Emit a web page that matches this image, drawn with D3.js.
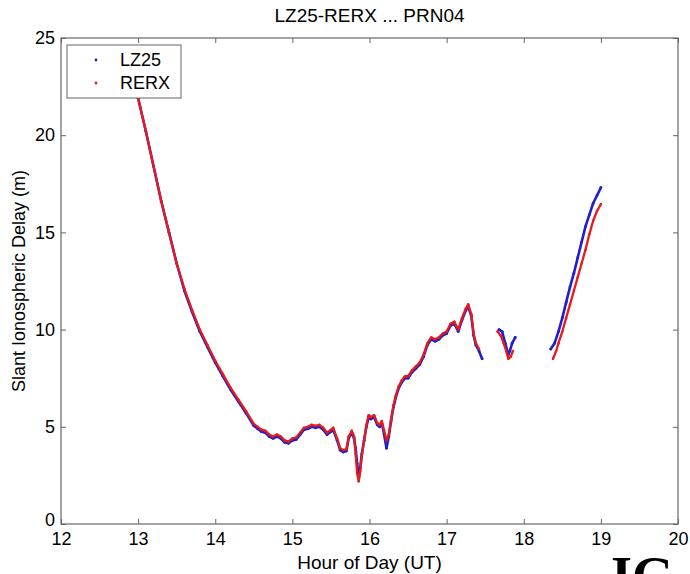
<!DOCTYPE html>
<html>
<head>
<meta charset="utf-8">
<script src="https://cdn.jsdelivr.net/npm/d3@7"></script>
<style>
  html, body { margin: 0; padding: 0; background: #fff; }
  svg { display: block; font-family: "Liberation Sans", Arial, sans-serif; }
</style>
</head>
<body>
<svg id="chart" width="690" height="574"></svg>
<script>
// Slant ionospheric delay along PRN04, seen from the two receivers.
// A null entry in a delay array marks a gap in tracking.
const lz25Hours = [
  13.0, 13.1, 13.2, 13.3, 13.4, 13.5, 13.6, 13.7, 13.8, 13.9,
  14.0, 14.1, 14.2, 14.3, 14.4, 14.5, 14.55, 14.6, 14.65, 14.7,
  14.75, 14.8, 14.85, 14.9, 14.95, 15.0, 15.05, 15.1, 15.15, 15.2,
  15.25, 15.3, 15.35, 15.4, 15.45, 15.5, 15.53, 15.58, 15.62, 15.66,
  15.7, 15.73, 15.77, 15.8, 15.82, 15.84, 15.86, 15.88, 15.9, 15.93,
  15.96, 15.99, 16.02, 16.06, 16.1, 16.13, 16.16, 16.19, 16.22, 16.25,
  16.28, 16.31, 16.34, 16.38, 16.42, 16.46, 16.5, 16.55, 16.6, 16.65,
  16.7, 16.75, 16.8, 16.85, 16.9, 16.95, 17.0, 17.05, 17.1, 17.15,
  17.2, 17.25, 17.28, 17.32, 17.35, 17.38, 17.42, 17.46,
  17.56,
  17.68, 17.72, 17.76, 17.8, 17.82, 17.85, 17.89,
  18.1,
  18.35, 18.4, 18.45, 18.5, 18.55, 18.6, 18.65, 18.7, 18.75, 18.8,
  18.85, 18.9, 18.95, 19.0
];
const lz25Delay = [
  21.9, 20.2, 18.4, 16.6, 15.0, 13.4, 12.0, 10.9, 9.9, 9.1,
  8.3, 7.6, 6.9, 6.3, 5.7, 5.05, 4.9, 4.75, 4.7, 4.5,
  4.4, 4.5, 4.4, 4.2, 4.15, 4.3, 4.35, 4.6, 4.85, 4.9,
  5.0, 4.95, 5.0, 4.85, 4.6, 4.75, 4.85, 4.3, 3.8, 3.7,
  3.75, 4.4, 4.7, 4.4, 3.9, 3.1, 2.4, 2.9, 3.6, 4.3,
  5.0, 5.5, 5.4, 5.5, 5.1, 5.0, 5.2, 4.6, 3.9, 4.5,
  5.3, 6.0, 6.5, 7.0, 7.3, 7.5, 7.5, 7.8, 8.0, 8.2,
  8.6, 9.2, 9.5, 9.4, 9.5, 9.7, 9.8, 10.2, 10.3, 9.9,
  10.5, 11.0, 11.2, 10.7, 9.7, 9.2, 8.9, 8.5,
  null,
  10.0, 9.9, 9.3, 8.7, 8.9, 9.3, 9.6,
  null,
  9.0, 9.3, 9.9, 10.6, 11.4, 12.2, 12.9, 13.7, 14.5, 15.3,
  15.9, 16.5, 16.9, 17.3
];

const rerxHours = [
  13.0, 13.1, 13.2, 13.3, 13.4, 13.5, 13.6, 13.7, 13.8, 13.9,
  14.0, 14.1, 14.2, 14.3, 14.4, 14.5, 14.55, 14.6, 14.65, 14.7,
  14.75, 14.8, 14.85, 14.9, 14.95, 15.0, 15.05, 15.1, 15.15, 15.2,
  15.25, 15.3, 15.35, 15.4, 15.45, 15.5, 15.53, 15.58, 15.62, 15.66,
  15.7, 15.73, 15.77, 15.8, 15.82, 15.84, 15.86, 15.88, 15.9, 15.93,
  15.96, 15.99, 16.02, 16.06, 16.1, 16.13, 16.16, 16.19, 16.22, 16.25,
  16.28, 16.31, 16.34, 16.38, 16.42, 16.46, 16.5, 16.55, 16.6, 16.65,
  16.7, 16.75, 16.8, 16.85, 16.9, 16.95, 17.0, 17.05, 17.1, 17.15,
  17.2, 17.25, 17.28, 17.32, 17.35, 17.38, 17.42,
  17.55,
  17.66, 17.7, 17.74, 17.78, 17.8, 17.83, 17.86,
  18.1,
  18.38, 18.42, 18.45, 18.5, 18.55, 18.6, 18.65, 18.7, 18.75, 18.8,
  18.85, 18.9, 18.95, 19.0
];
const rerxDelay = [
  21.9, 20.2, 18.4, 16.6, 15.0, 13.4, 12.1, 11.0, 10.0, 9.2,
  8.4, 7.7, 7.0, 6.4, 5.8, 5.15, 5.0, 4.85, 4.8, 4.6,
  4.5, 4.6, 4.5, 4.3, 4.25, 4.4, 4.45, 4.7, 4.95, 5.0,
  5.1, 5.05, 5.1, 4.95, 4.7, 4.85, 4.95, 4.4, 3.9, 3.8,
  3.85, 4.5, 4.8, 4.5, 3.6, 2.6, 2.2, 2.7, 3.5, 4.3,
  5.1, 5.6, 5.5, 5.6, 5.2, 5.1, 5.3, 4.8, 4.3, 4.6,
  5.4, 6.1, 6.6, 7.1, 7.4, 7.6, 7.6, 7.9, 8.1, 8.3,
  8.7, 9.3, 9.6, 9.5, 9.6, 9.8, 9.9, 10.3, 10.4, 10.0,
  10.6, 11.1, 11.3, 10.8, 9.8, 9.3, 9.0,
  null,
  9.9, 9.7, 9.3, 8.8, 8.5, 8.6, 8.9,
  null,
  8.5, 8.9, 9.3, 9.9, 10.6, 11.3, 12.0, 12.7, 13.4, 14.1,
  14.9, 15.6, 16.1, 16.45
];

const seriesNames = ["LZ25", "RERX"];
const seriesColors = ["#1f1fd0", "#e51c1c"];
const xTicks = [12, 13, 14, 15, 16, 17, 18, 19, 20];
const yTicks = [0, 5, 10, 15, 20, 25];
const titleText = "LZ25-RERX ... PRN04";
const xLabel = "Hour of Day (UT)";
const yLabel = "Slant Ionospheric Delay (m)";

const svg = d3.select("#chart");
const margin = { left: 61, right: 12, top: 38, bottom: 50 };
const W = 690, H = 574;
const x = d3.scaleLinear().domain([12, 20]).range([margin.left, W - margin.right]);
const y = d3.scaleLinear().domain([0, 25]).range([H - margin.bottom, margin.top]);

svg.append("defs").append("clipPath").attr("id", "plotClip")
  .append("rect")
  .attr("x", x(12)).attr("y", y(25))
  .attr("width", x(20) - x(12)).attr("height", y(0) - y(25));

const seriesData = [
  lz25Hours.map((h, i) => ({ h, v: lz25Delay[i] })),
  rerxHours.map((h, i) => ({ h, v: rerxDelay[i] }))
];

const line = d3.line()
  .defined(d => d.v != null)
  .x(d => x(d.h))
  .y(d => y(d.v));

const plot = svg.append("g").attr("clip-path", "url(#plotClip)");
seriesData.forEach((data, k) => {
  plot.append("path")
    .datum(data)
    .attr("fill", "none")
    .attr("stroke", seriesColors[k])
    .attr("stroke-width", k === 0 ? 2.6 : 2.3)
    .attr("stroke-linejoin", "round")
    .attr("stroke-linecap", "round")
    .attr("d", line);
  plot.selectAll(null)
    .data(data.filter(d => d.v != null))
    .enter().append("circle")
    .attr("cx", d => x(d.h))
    .attr("cy", d => y(d.v))
    .attr("r", k === 0 ? 1.4 : 1.25)
    .attr("fill", seriesColors[k]);
});

// Axes: ticks point inward on all four sides of the frame
const axisColor = "#666";
const tickLen = 5;
function styleAxis(g) {
  g.select(".domain").remove();
  g.selectAll(".tick line").attr("stroke", axisColor);
  g.selectAll(".tick text").attr("fill", "#000").attr("font-size", 18);
}
svg.append("g")
  .attr("transform", `translate(0,${y(0)})`)
  .call(d3.axisBottom(x).tickValues(xTicks).tickSize(-tickLen).tickPadding(8).tickFormat(d3.format("d")))
  .call(styleAxis);
svg.append("g")
  .attr("transform", `translate(0,${y(25)})`)
  .call(d3.axisTop(x).tickValues(xTicks).tickSize(-tickLen).tickFormat(""))
  .call(styleAxis);
svg.append("g")
  .attr("transform", `translate(${x(12)},0)`)
  .call(d3.axisLeft(y).tickValues(yTicks).tickSize(-tickLen).tickPadding(6).tickFormat(d3.format("d")))
  .call(styleAxis)
  // the bottom label sits a little higher so it clears the hour labels
  .call(g => g.selectAll(".tick").filter(d => d === 0).select("text").attr("dy", "0.1em"));
svg.append("g")
  .attr("transform", `translate(${x(20)},0)`)
  .call(d3.axisRight(y).tickValues(yTicks).tickSize(-tickLen).tickFormat(""))
  .call(styleAxis);

svg.append("rect")
  .attr("x", x(12)).attr("y", y(25))
  .attr("width", x(20) - x(12)).attr("height", y(0) - y(25))
  .attr("fill", "none").attr("stroke", axisColor).attr("stroke-width", 1.2);

// Titles
svg.append("text")
  .attr("x", (x(12) + x(20)) / 2).attr("y", 22)
  .attr("text-anchor", "middle").attr("font-size", 19)
  .text(titleText);
svg.append("text")
  .attr("x", (x(12) + x(20)) / 2).attr("y", 569)
  .attr("text-anchor", "middle").attr("font-size", 19)
  .text(xLabel);
svg.append("text")
  .attr("transform", `translate(25,${(y(0) + y(25)) / 2}) rotate(-90)`)
  .attr("text-anchor", "middle").attr("font-size", 18)
  .text(yLabel);

// Legend
const legend = svg.append("g").attr("transform", "translate(67,45)");
legend.append("rect")
  .attr("width", 114).attr("height", 53)
  .attr("fill", "#fff").attr("stroke", axisColor).attr("stroke-width", 1);
seriesNames.forEach((name, i) => {
  legend.append("circle")
    .attr("cx", 29).attr("cy", 15 + i * 23).attr("r", 1.4)
    .attr("fill", seriesColors[i]);
  legend.append("text")
    .attr("x", 53).attr("y", 21 + i * 23)
    .attr("font-size", 18)
    .text(name);
});

// Fragment of the next caption, clipped by the page edge
svg.append("text")
  .attr("x", 611).attr("y", 594)
  .attr("font-family", "Liberation Serif, serif")
  .attr("font-weight", "bold")
  .attr("font-size", 54)
  .text("IG");
</script>
</body>
</html>
